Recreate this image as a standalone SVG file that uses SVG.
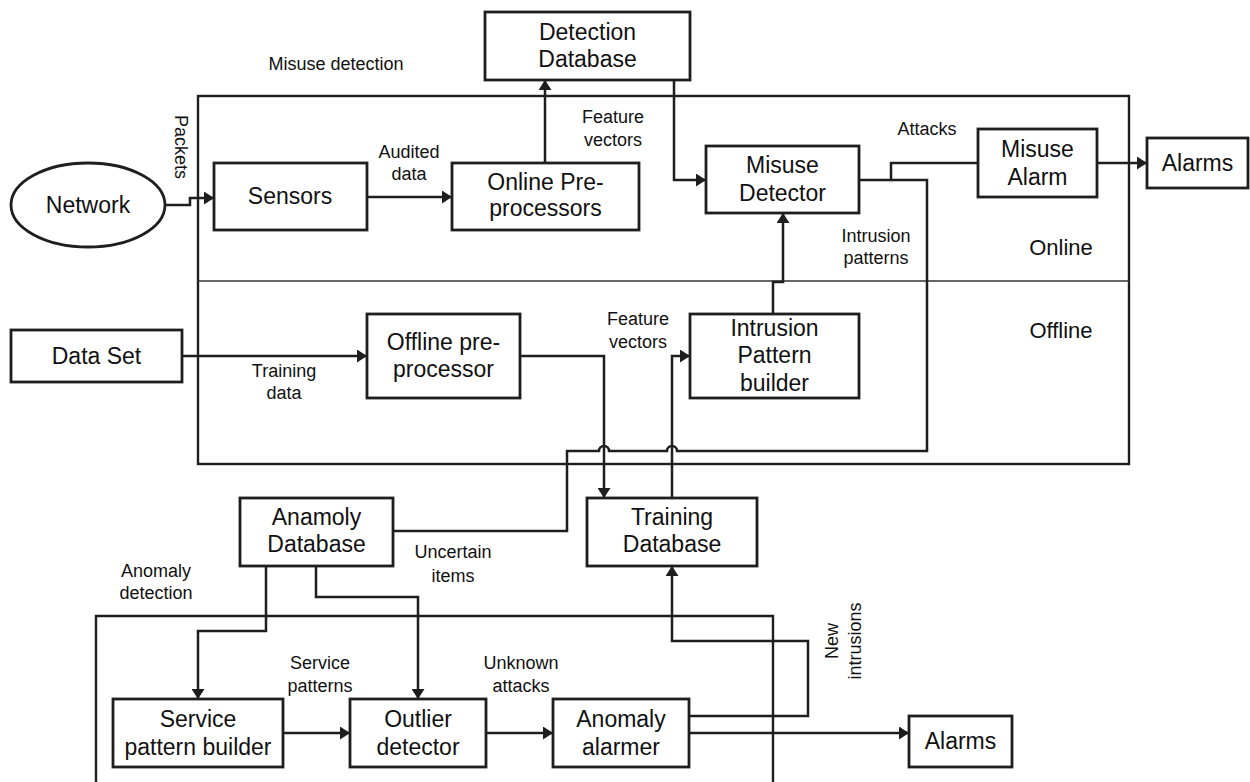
<svg xmlns="http://www.w3.org/2000/svg" width="1250" height="782" viewBox="0 0 1250 782">
<style>
.box{fill:#fff;stroke:#1e1e1e;stroke-width:2.8}
.frame{fill:none;stroke:#1e1e1e;stroke-width:2.4}
.div{fill:none;stroke:#333;stroke-width:1.3}
.c{fill:none;stroke:#1e1e1e;stroke-width:2.5}
.n{font-family:"Liberation Sans",Arial,sans-serif;font-size:23px;fill:#111;text-anchor:middle}
.l{font-family:"Liberation Sans",Arial,sans-serif;font-size:18px;fill:#111;text-anchor:middle}
.b{font-family:"Liberation Sans",Arial,sans-serif;font-size:22px;fill:#111;text-anchor:middle}
</style>
<defs>
<marker id="ah" markerUnits="userSpaceOnUse" markerWidth="11" markerHeight="13" refX="10" refY="6.5" orient="auto">
<path d="M0,0 L10,6.5 L0,13 z" fill="#1e1e1e"/>
</marker>
</defs>
<rect width="1250" height="782" fill="#fff"/>
<g id="frames">
<rect class="frame" x="198" y="96" width="931" height="368"/>
<line class="div" x1="198" y1="281" x2="1129" y2="281"/>
<path class="frame" d="M96,790 V616 H773 V790"/>
<text class="l" x="336" y="70">Misuse detection</text>
<text class="b" x="1061" y="255">Online</text>
<text class="b" x="1061" y="338">Offline</text>
<text class="l" x="156" y="577">Anomaly</text>
<text class="l" x="156" y="599">detection</text>
</g>
<g id="connectors">
<path class="c" d="M164,205 H190 V198 H214" marker-end="url(#ah)"/>
<path class="c" d="M367,197 H452" marker-end="url(#ah)"/>
<path class="c" d="M545,163 V80" marker-end="url(#ah)"/>
<path class="c" d="M674,80 V180 H706" marker-end="url(#ah)"/>
<path class="c" d="M859,180 H891 V163 H978"/>
<path class="c" d="M891,180 H927 V451 H677 A5,5 0 0 0 667,451 H609 A5,5 0 0 0 599,451 H567 V531 H393"/>
<path class="c" d="M1097,163 H1147" marker-end="url(#ah)"/>
<path class="c" d="M182,356 H367" marker-end="url(#ah)"/>
<path class="c" d="M520,356 H604 V498" marker-end="url(#ah)"/>
<path class="c" d="M672,498 V356 H690" marker-end="url(#ah)"/>
<path class="c" d="M773,314 V282 H783 V213" marker-end="url(#ah)"/>
<path class="c" d="M266,566 V631 H198 V699" marker-end="url(#ah)"/>
<path class="c" d="M316,566 V597 H418 V699" marker-end="url(#ah)"/>
<path class="c" d="M283,733 H350" marker-end="url(#ah)"/>
<path class="c" d="M486,733 H553" marker-end="url(#ah)"/>
<path class="c" d="M689,733 H909" marker-end="url(#ah)"/>
<path class="c" d="M689,716 H808 V641 H672 V566" marker-end="url(#ah)"/>
<text class="l" transform="translate(175,147) rotate(90)">Packets</text>
<text class="l" x="409" y="158">Audited</text>
<text class="l" x="409" y="180">data</text>
<text class="l" x="613" y="123">Feature</text>
<text class="l" x="613" y="146">vectors</text>
<text class="l" x="927" y="135">Attacks</text>
<text class="l" x="876" y="242">Intrusion</text>
<text class="l" x="876" y="264">patterns</text>
<text class="l" x="284" y="377">Training</text>
<text class="l" x="284" y="399">data</text>
<text class="l" x="638" y="325">Feature</text>
<text class="l" x="638" y="348">vectors</text>
<text class="l" x="453" y="558">Uncertain</text>
<text class="l" x="453" y="582">items</text>
<text class="l" x="320" y="669">Service</text>
<text class="l" x="320" y="692">patterns</text>
<text class="l" x="521" y="669">Unknown</text>
<text class="l" x="521" y="692">attacks</text>
<g transform="translate(838,641) rotate(-90)">
<text class="l" x="0" y="0">New</text>
<text class="l" x="0" y="23">intrusions</text>
</g>
</g>
<g id="network">
<ellipse class="box" cx="88" cy="205" rx="77" ry="42"/>
<text class="n" x="88" y="213">Network</text>
</g>
<g id="sensors">
<rect class="box" x="214" y="163" width="153" height="67"/>
<text class="n" x="290" y="204">Sensors</text>
</g>
<g id="online-pre">
<rect class="box" x="452" y="163" width="187" height="67"/>
<text class="n" x="545.5" y="190">Online Pre-</text>
<text class="n" x="545.5" y="216">processors</text>
</g>
<g id="detection-db">
<rect class="box" x="485" y="12" width="205" height="68"/>
<text class="n" x="587.5" y="40">Detection</text>
<text class="n" x="587.5" y="67">Database</text>
</g>
<g id="misuse-detector">
<rect class="box" x="706" y="146" width="153" height="67"/>
<text class="n" x="782.5" y="173">Misuse</text>
<text class="n" x="782.5" y="201">Detector</text>
</g>
<g id="misuse-alarm">
<rect class="box" x="978" y="129" width="119" height="68"/>
<text class="n" x="1037.5" y="157">Misuse</text>
<text class="n" x="1037.5" y="185">Alarm</text>
</g>
<g id="alarms-top">
<rect class="box" x="1147" y="138" width="101" height="50"/>
<text class="n" x="1197.5" y="171">Alarms</text>
</g>
<g id="data-set">
<rect class="box" x="11" y="330" width="171" height="52"/>
<text class="n" x="96.5" y="364">Data Set</text>
</g>
<g id="offline-pre">
<rect class="box" x="367" y="314" width="153" height="84"/>
<text class="n" x="443.5" y="350">Offline pre-</text>
<text class="n" x="443.5" y="377">processor</text>
</g>
<g id="intrusion-pb">
<rect class="box" x="690" y="314" width="169" height="84"/>
<text class="n" x="774.5" y="336">Intrusion</text>
<text class="n" x="774.5" y="363">Pattern</text>
<text class="n" x="774.5" y="391">builder</text>
</g>
<g id="anamoly-db">
<rect class="box" x="240" y="498" width="153" height="68"/>
<text class="n" x="316.5" y="525">Anamoly</text>
<text class="n" x="316.5" y="552">Database</text>
</g>
<g id="training-db">
<rect class="box" x="587" y="498" width="170" height="68"/>
<text class="n" x="672" y="525">Training</text>
<text class="n" x="672" y="552">Database</text>
</g>
<g id="service-pb">
<rect class="box" x="113" y="699" width="170" height="68"/>
<text class="n" x="198" y="727">Service</text>
<text class="n" x="198" y="755">pattern builder</text>
</g>
<g id="outlier">
<rect class="box" x="350" y="699" width="136" height="68"/>
<text class="n" x="418" y="727">Outlier</text>
<text class="n" x="418" y="755">detector</text>
</g>
<g id="anomaly-alarmer">
<rect class="box" x="553" y="699" width="136" height="68"/>
<text class="n" x="621" y="727">Anomaly</text>
<text class="n" x="621" y="755">alarmer</text>
</g>
<g id="alarms-bottom">
<rect class="box" x="909" y="716" width="103" height="51"/>
<text class="n" x="960.5" y="749">Alarms</text>
</g>
</svg>
